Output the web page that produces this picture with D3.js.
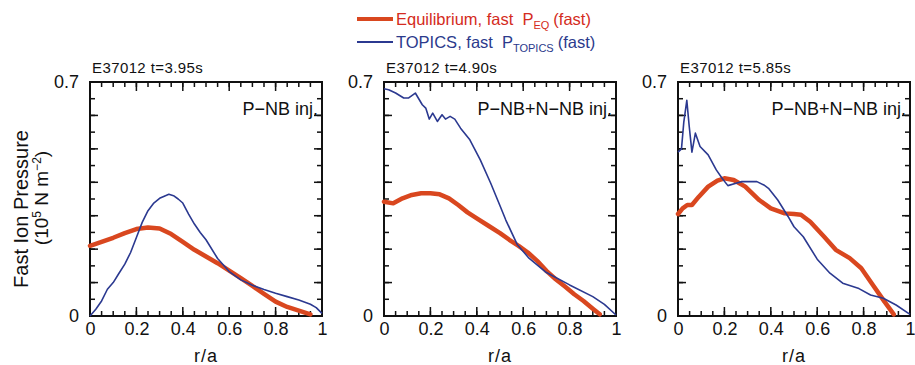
<!DOCTYPE html>
<html>
<head>
<meta charset="utf-8">
<script src="https://cdn.jsdelivr.net/npm/d3@7"></script>
<style>
body { margin: 0; background: #fff; }
svg text { font-family: "Liberation Sans", Arial, sans-serif; }
</style>
</head>
<body>
<div id="chart"></div>
<script>
// ---- data (r/a, fast ion pressure in 1e5 N m^-2) ----
var panelTitles = ["E37012 t=3.95s", "E37012 t=4.90s", "E37012 t=5.85s"];
var panelNotes  = ["P\u2212NB inj.", "P\u2212NB+N\u2212NB inj.", "P\u2212NB+N\u2212NB inj."];

var xTickLabels = [0, 0.2, 0.4, 0.6, 0.8, 1];
var yTickLabels = [0, 0.7];

// t = 3.95 s
var eqR1 = [0, 0.05, 0.1, 0.15, 0.2, 0.25, 0.3, 0.35, 0.4, 0.45, 0.5, 0.55, 0.6, 0.65, 0.7, 0.75, 0.8, 0.85, 0.9, 0.95];
var eqP1 = [0.21, 0.222, 0.234, 0.248, 0.26, 0.265, 0.262, 0.245, 0.222, 0.198, 0.178, 0.158, 0.136, 0.113, 0.09, 0.066, 0.043, 0.027, 0.016, 0.005];
var topR1 = [0, 0.025, 0.05, 0.075, 0.1, 0.125, 0.15, 0.175, 0.2, 0.225, 0.25, 0.275, 0.3, 0.325, 0.34, 0.36, 0.38, 0.4, 0.425, 0.45, 0.475, 0.5, 0.55, 0.6, 0.65, 0.7, 0.75, 0.8, 0.85, 0.9, 0.95, 0.975, 1.0];
var topP1 = [0.0, 0.02, 0.045, 0.08, 0.1, 0.128, 0.155, 0.19, 0.235, 0.28, 0.315, 0.338, 0.352, 0.36, 0.364, 0.36, 0.35, 0.338, 0.305, 0.275, 0.25, 0.228, 0.172, 0.133, 0.108, 0.092, 0.079, 0.068, 0.058, 0.048, 0.035, 0.025, 0.008];

// t = 4.90 s
var eqR2 = [0, 0.04, 0.08, 0.12, 0.16, 0.2, 0.24, 0.28, 0.32, 0.36, 0.4, 0.45, 0.5, 0.54, 0.58, 0.62, 0.66, 0.7, 0.74, 0.78, 0.82, 0.86, 0.9, 0.93];
var eqP2 = [0.342, 0.337, 0.352, 0.362, 0.367, 0.367, 0.364, 0.352, 0.332, 0.31, 0.292, 0.27, 0.248, 0.228, 0.21, 0.19, 0.165, 0.135, 0.11, 0.088, 0.065, 0.045, 0.022, 0.005];
var topR2 = [0, 0.02, 0.05, 0.085, 0.105, 0.135, 0.165, 0.18, 0.195, 0.21, 0.23, 0.25, 0.265, 0.285, 0.305, 0.33, 0.37, 0.415, 0.46, 0.5, 0.525, 0.575, 0.625, 0.7, 0.8, 0.9, 0.95, 1.0];
var topP2 = [0.68, 0.677, 0.667, 0.652, 0.652, 0.667, 0.632, 0.622, 0.589, 0.607, 0.582, 0.602, 0.589, 0.597, 0.589, 0.562, 0.527, 0.467, 0.397, 0.33, 0.287, 0.213, 0.173, 0.13, 0.093, 0.058, 0.035, 0.003];

// t = 5.85 s
var eqR3 = [0, 0.02, 0.04, 0.06, 0.09, 0.13, 0.17, 0.2, 0.24, 0.29, 0.35, 0.4, 0.46, 0.5, 0.53, 0.57, 0.63, 0.68, 0.74, 0.79, 0.84, 0.89, 0.93];
var eqP3 = [0.305, 0.322, 0.332, 0.332, 0.357, 0.387, 0.405, 0.412, 0.407, 0.387, 0.347, 0.322, 0.307, 0.305, 0.303, 0.282, 0.237, 0.198, 0.173, 0.143, 0.093, 0.043, 0.005];
var topR3 = [0, 0.015, 0.025, 0.038, 0.048, 0.06, 0.075, 0.095, 0.13, 0.165, 0.19, 0.215, 0.25, 0.275, 0.3, 0.34, 0.37, 0.39, 0.43, 0.475, 0.5, 0.54, 0.6, 0.655, 0.71, 0.78, 0.83, 0.885, 0.94, 1.0];
var topP3 = [0.49, 0.5, 0.58, 0.645, 0.57, 0.49, 0.547, 0.507, 0.482, 0.437, 0.412, 0.39, 0.397, 0.402, 0.402, 0.402, 0.392, 0.382, 0.347, 0.297, 0.267, 0.237, 0.17, 0.128, 0.098, 0.082, 0.063, 0.053, 0.033, 0.005];

var panels = [
	{ title: panelTitles[0], note: panelNotes[0], eq: d3.zip(eqR1, eqP1), topics: d3.zip(topR1, topP1) },
	{ title: panelTitles[1], note: panelNotes[1], eq: d3.zip(eqR2, eqP2), topics: d3.zip(topR2, topP2) },
	{ title: panelTitles[2], note: panelNotes[2], eq: d3.zip(eqR3, eqP3), topics: d3.zip(topR3, topP3) }
];

// ---- layout ----
var panelLeft = [90, 384, 678];
var panelWidth = 232;
var plotTop = 82, plotBottom = 316;

var eqColor = "#d9471f";
var topicsColor = "#2b3990";
var inkColor = "#111";

var svg = d3.select("#chart")
	.append("svg")
	.attr("width", 915)
	.attr("height", 365);

function styleAxis(g)
{
	g.attr("font-family", null).attr("font-size", 18);
	g.selectAll(".domain").remove();
	g.selectAll(".tick line").remove();
	g.selectAll("text").attr("fill", inkColor);
}

function drawPanel(p, i)
{
	var x0 = panelLeft[i];
	var x1 = x0 + panelWidth;
	var x = d3.scaleLinear().domain([0, 1]).range([x0, x1]);
	var y = d3.scaleLinear().domain([0, 0.7]).range([plotBottom, plotTop]);

	var g = svg.append("g").attr("class", "panel");

	var minorX = d3.range(0, 1.0001, 0.05);
	var majorY = d3.range(0, 0.7001, 0.1);
	var minorY = d3.range(0, 0.7001, 0.05);

	// frame
	g.append("rect")
		.attr("x", x0)
		.attr("y", plotTop)
		.attr("width", panelWidth)
		.attr("height", plotBottom - plotTop)
		.attr("fill", "none")
		.attr("stroke", inkColor)
		.attr("stroke-width", 2);

	// inward tick marks as thin filled bars, placed by the scales
	var ticks = g.append("g").attr("class", "ticks").attr("fill", inkColor);

	function xTicks(values, len)
	{
		ticks.selectAll(null).data(values).join("rect")
			.attr("x", function(d){ return x(d) - 0.75; })
			.attr("y", plotBottom - len)
			.attr("width", 1.5)
			.attr("height", len);
		ticks.selectAll(null).data(values).join("rect")
			.attr("x", function(d){ return x(d) - 0.75; })
			.attr("y", plotTop)
			.attr("width", 1.5)
			.attr("height", len);
	}
	function yTicks(values, len)
	{
		ticks.selectAll(null).data(values).join("rect")
			.attr("x", x0)
			.attr("y", function(d){ return y(d) - 0.75; })
			.attr("width", len)
			.attr("height", 1.5);
		ticks.selectAll(null).data(values).join("rect")
			.attr("x", x1 - len)
			.attr("y", function(d){ return y(d) - 0.75; })
			.attr("width", len)
			.attr("height", 1.5);
	}
	xTicks(minorX, 5);
	xTicks(xTickLabels, 9);
	yTicks(minorY, 5);
	yTicks(majorY, 8);

	// tick labels
	g.append("g").attr("transform", "translate(0," + plotBottom + ")")
		.call(d3.axisBottom(x).tickValues(xTickLabels).tickSize(0).tickPadding(6)
			.tickFormat(function(d){ return String(+d.toFixed(1)); }))
		.call(styleAxis);
	g.append("g").attr("transform", "translate(" + x0 + ",0)")
		.call(d3.axisLeft(y).tickValues(yTickLabels).tickSize(0).tickPadding(11)
			.tickFormat(function(d){ return String(+d.toFixed(1)); }))
		.call(styleAxis);

	var lineGen = d3.line()
		.x(function(d){ return x(d[0]); })
		.y(function(d){ return y(d[1]); });

	g.append("path")
		.datum(p.eq)
		.attr("d", lineGen)
		.attr("fill", "none")
		.attr("stroke", eqColor)
		.attr("stroke-width", 4.5)
		.attr("stroke-linejoin", "round")
		.attr("stroke-linecap", "round");

	g.append("path")
		.datum(p.topics)
		.attr("d", lineGen)
		.attr("fill", "none")
		.attr("stroke", topicsColor)
		.attr("stroke-width", 1.6)
		.attr("stroke-linejoin", "round");

	// shot / time label above the frame
	g.append("text")
		.attr("x", x0 + 2)
		.attr("y", plotTop - 9)
		.attr("font-size", 15)
		.attr("letter-spacing", 0.4)
		.attr("fill", inkColor)
		.text(p.title);

	// injection note, top right inside
	g.append("text")
		.attr("x", x1 - 4)
		.attr("y", plotTop + 33)
		.attr("text-anchor", "end")
		.attr("font-size", 18)
		.attr("fill", inkColor)
		.text(p.note);

	// x axis title
	g.append("text")
		.attr("x", x0 + panelWidth / 2)
		.attr("y", 362)
		.attr("text-anchor", "middle")
		.attr("font-size", 18)
		.attr("letter-spacing", 1)
		.attr("fill", inkColor)
		.text("r/a");
}

panels.forEach(drawPanel);

// y axis title (two lines, rotated)
var yTitle = svg.append("g").attr("fill", inkColor);
yTitle.append("text")
	.attr("transform", "translate(28,209) rotate(-90)")
	.attr("text-anchor", "middle")
	.attr("font-size", 20)
	.text("Fast Ion Pressure");
var unitText = yTitle.append("text")
	.attr("transform", "translate(48,198) rotate(-90)")
	.attr("text-anchor", "middle")
	.attr("font-size", 19);
unitText.append("tspan").text("(10");
unitText.append("tspan").attr("font-size", 12).attr("dy", -7).text("5");
unitText.append("tspan").attr("dy", 7).text(" N m");
unitText.append("tspan").attr("font-size", 12).attr("dy", -7).text("\u22122");
unitText.append("tspan").attr("dy", 7).text(")");

// legend
var legend = svg.append("g").attr("class", "legend");
legend.append("path")
	.attr("d", "M357,19H393")
	.attr("stroke", eqColor).attr("stroke-width", 4);
var eqText = legend.append("text")
	.attr("x", 396).attr("y", 25)
	.attr("font-size", 16.5)
	.attr("fill", "#d42b21");
eqText.append("tspan").text("Equilibrium, fast");
eqText.append("tspan").attr("dx", 9).text("P");
eqText.append("tspan").attr("font-size", 11).attr("dy", 4).text("EQ");
eqText.append("tspan").attr("dy", -4).attr("dx", 4).text("(fast)");

legend.append("path")
	.attr("d", "M357,42H393")
	.attr("stroke", topicsColor).attr("stroke-width", 1.8);
var topText = legend.append("text")
	.attr("x", 396).attr("y", 48)
	.attr("font-size", 16.5)
	.attr("fill", "#2b3a8c");
topText.append("tspan").text("TOPICS, fast");
topText.append("tspan").attr("dx", 9).text("P");
topText.append("tspan").attr("font-size", 11).attr("dy", 4).text("TOPICS");
topText.append("tspan").attr("dy", -4).attr("dx", 4).text("(fast)");
</script>
</body>
</html>
